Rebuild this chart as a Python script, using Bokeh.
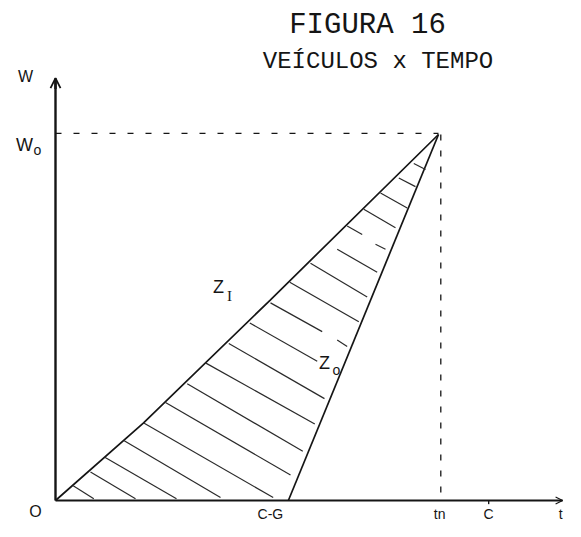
from bokeh.plotting import figure
from bokeh.models import Arrow, OpenHead
from bokeh.embed import file_html
from bokeh.resources import INLINE
from bokeh.core.properties import value

# ---------------- data ----------------
T_CG = 6.08      # C-G
T_N = 10.0       # tn
T_C = 11.31      # C
W_O = 10.0       # Wo
T_AXIS_END = 13.24
W_AXIS_END = 11.54

# arrival curve Z_I and departure curve Z_o
zi_t = [0.0, 2.30, 5.60, 10.0]
zi_w = [0.0, 2.12, 5.47, 10.0]
zo_t = [6.08, 10.0]
zo_w = [0.0, 10.0]

# hatch strokes inside the area between the curves
hatch_t0 = [0.462, 0.914, 1.287, 1.783, 2.305, 2.872, 3.439, 3.916, 4.525, 5.073,
            5.614, 7.355, 6.117, 6.658, 7.355, 7.616, 8.355, 8.050, 8.486, 8.963, 9.355]
hatch_w0 = [0.400, 0.780, 1.180, 1.640, 2.120, 2.680, 3.190, 3.760, 4.290, 4.850,
            5.400, 4.386, 5.965, 6.480, 6.865, 7.500, 7.000, 7.960, 8.400, 8.810, 9.210]
hatch_t1 = [1.000, 2.089, 3.159, 4.308, 5.684, 6.136, 6.457, 6.770, 7.023, 6.833,
            6.963, 7.616, 7.919, 8.138, 8.399, 8.008, 8.616, 8.877, 9.183, 9.399, 9.661]
hatch_w1 = [0.05, 0.05, 0.05, 0.08, 0.08, 0.695, 1.343, 2.089, 2.784, 3.803,
            4.614, 4.208, 4.884, 5.559, 6.235, 7.270, 6.865, 7.451, 7.992, 8.576, 9.046]

title_lines = ["FIGURA 16", "VEÍCULOS x TEMPO"]
axis_labels = ["W", "O", "C-G", "tn", "C", "t"]
curve_main = ["W", "Z", "Z"]
curve_sub_o = ["o", "o"]
curve_sub_i = ["I"]

# ---------------- layout ----------------
W_PX, H_PX = 565, 521
PX_T = 38.3   # pixels per t unit
PX_W = 36.6   # pixels per w unit
ORIG_X, ORIG_Y = 55, 500   # origin in figure pixels

p = figure(width=W_PX, height=H_PX, output_backend="svg", toolbar_location=None,
           x_axis_type=None, y_axis_type=None, min_border=0,
           x_range=(-ORIG_X / PX_T, (W_PX - ORIG_X) / PX_T),
           y_range=(-(H_PX - ORIG_Y) / PX_W, ORIG_Y / PX_W))
p.outline_line_color = None
p.grid.visible = False
p.background_fill_color = "white"
p.border_fill_color = "white"

INK = "#151515"

# axes
p.segment(x0=[0, 0], y0=[0, 0], x1=[T_AXIS_END, 0], y1=[0, W_AXIS_END],
          line_color=INK, line_width=[1.8, 2.4])
p.add_layout(Arrow(end=OpenHead(size=10, line_width=1.8, line_color=INK),
                   x_start=0, y_start=W_AXIS_END - 0.3, x_end=0, y_end=W_AXIS_END,
                   line_color=INK, line_width=2.4))
p.add_layout(Arrow(end=OpenHead(size=7, line_width=1.2, line_color=INK),
                   x_start=T_AXIS_END - 0.3, y_start=0, x_end=T_AXIS_END, y_end=0,
                   line_color=INK, line_width=1.2))
# tick at C
p.segment(x0=[T_C], y0=[0], x1=[T_C], y1=[-0.1], line_color=INK, line_width=1.4)

# dashed guides
p.line([0, T_N], [W_O + 0.03, W_O + 0.03], line_color=INK, line_width=1.2, line_dash="6 12")
p.line([T_N + 0.06, T_N + 0.06], [W_O, 0], line_color=INK, line_width=1.3, line_dash="6 10")

# curves
p.line(zi_t, zi_w, line_color=INK, line_width=1.7)
p.line(zo_t, zo_w, line_color=INK, line_width=1.7)

# hatching
p.segment(x0=hatch_t0, y0=hatch_w0, x1=hatch_t1, y1=hatch_w1,
          line_color="#2a2a2a", line_width=1.2)

# title
p.text(x=[8.146], y=[12.98], text=title_lines[:1],
       text_font=value("Liberation Mono"), text_font_size="29px",
       text_color=INK, text_align="center", text_baseline="middle")
p.text(x=[8.42], y=[12.0], text=title_lines[1:],
       text_font=value("Liberation Mono"), text_font_size="24px",
       text_color=INK, text_align="center", text_baseline="middle")

# axis labels
p.text(x=[-0.783], y=[11.59], text=axis_labels[:1],
       text_font=value("Liberation Sans"), text_font_size="16px",
       text_color=INK, text_align="center", text_baseline="middle")
p.text(x=[-0.522], y=[-0.30], text=axis_labels[1:2],
       text_font=value("Liberation Sans"), text_font_size="16px",
       text_color=INK, text_align="center", text_baseline="middle")
p.text(x=[5.61, 10.03, 11.31, 13.19],
       y=[-0.36, -0.36, -0.36, -0.36],
       text=axis_labels[2:], text_font=value("Liberation Sans"), text_font_size="14px",
       text_color=INK, text_align="center", text_baseline="middle")

# curve labels with subscripts
p.text(x=[-0.809, 4.256, 7.023], y=[9.70, 5.838, 3.757], text=curve_main,
       text_font=value("Liberation Sans"), text_font_size="18px",
       text_color=INK, text_align="center", text_baseline="middle")
p.text(x=[-0.47, 7.337], y=[9.57, 3.568], text=curve_sub_o,
       text_font=value("Liberation Sans"), text_font_size="14px",
       text_color=INK, text_align="center", text_baseline="middle")
p.text(x=[4.543], y=[5.595], text=curve_sub_i,
       text_font=value("Liberation Serif"), text_font_size="15px",
       text_color=INK, text_align="center", text_baseline="middle")

open("out.html", "w").write(file_html(p, INLINE))
